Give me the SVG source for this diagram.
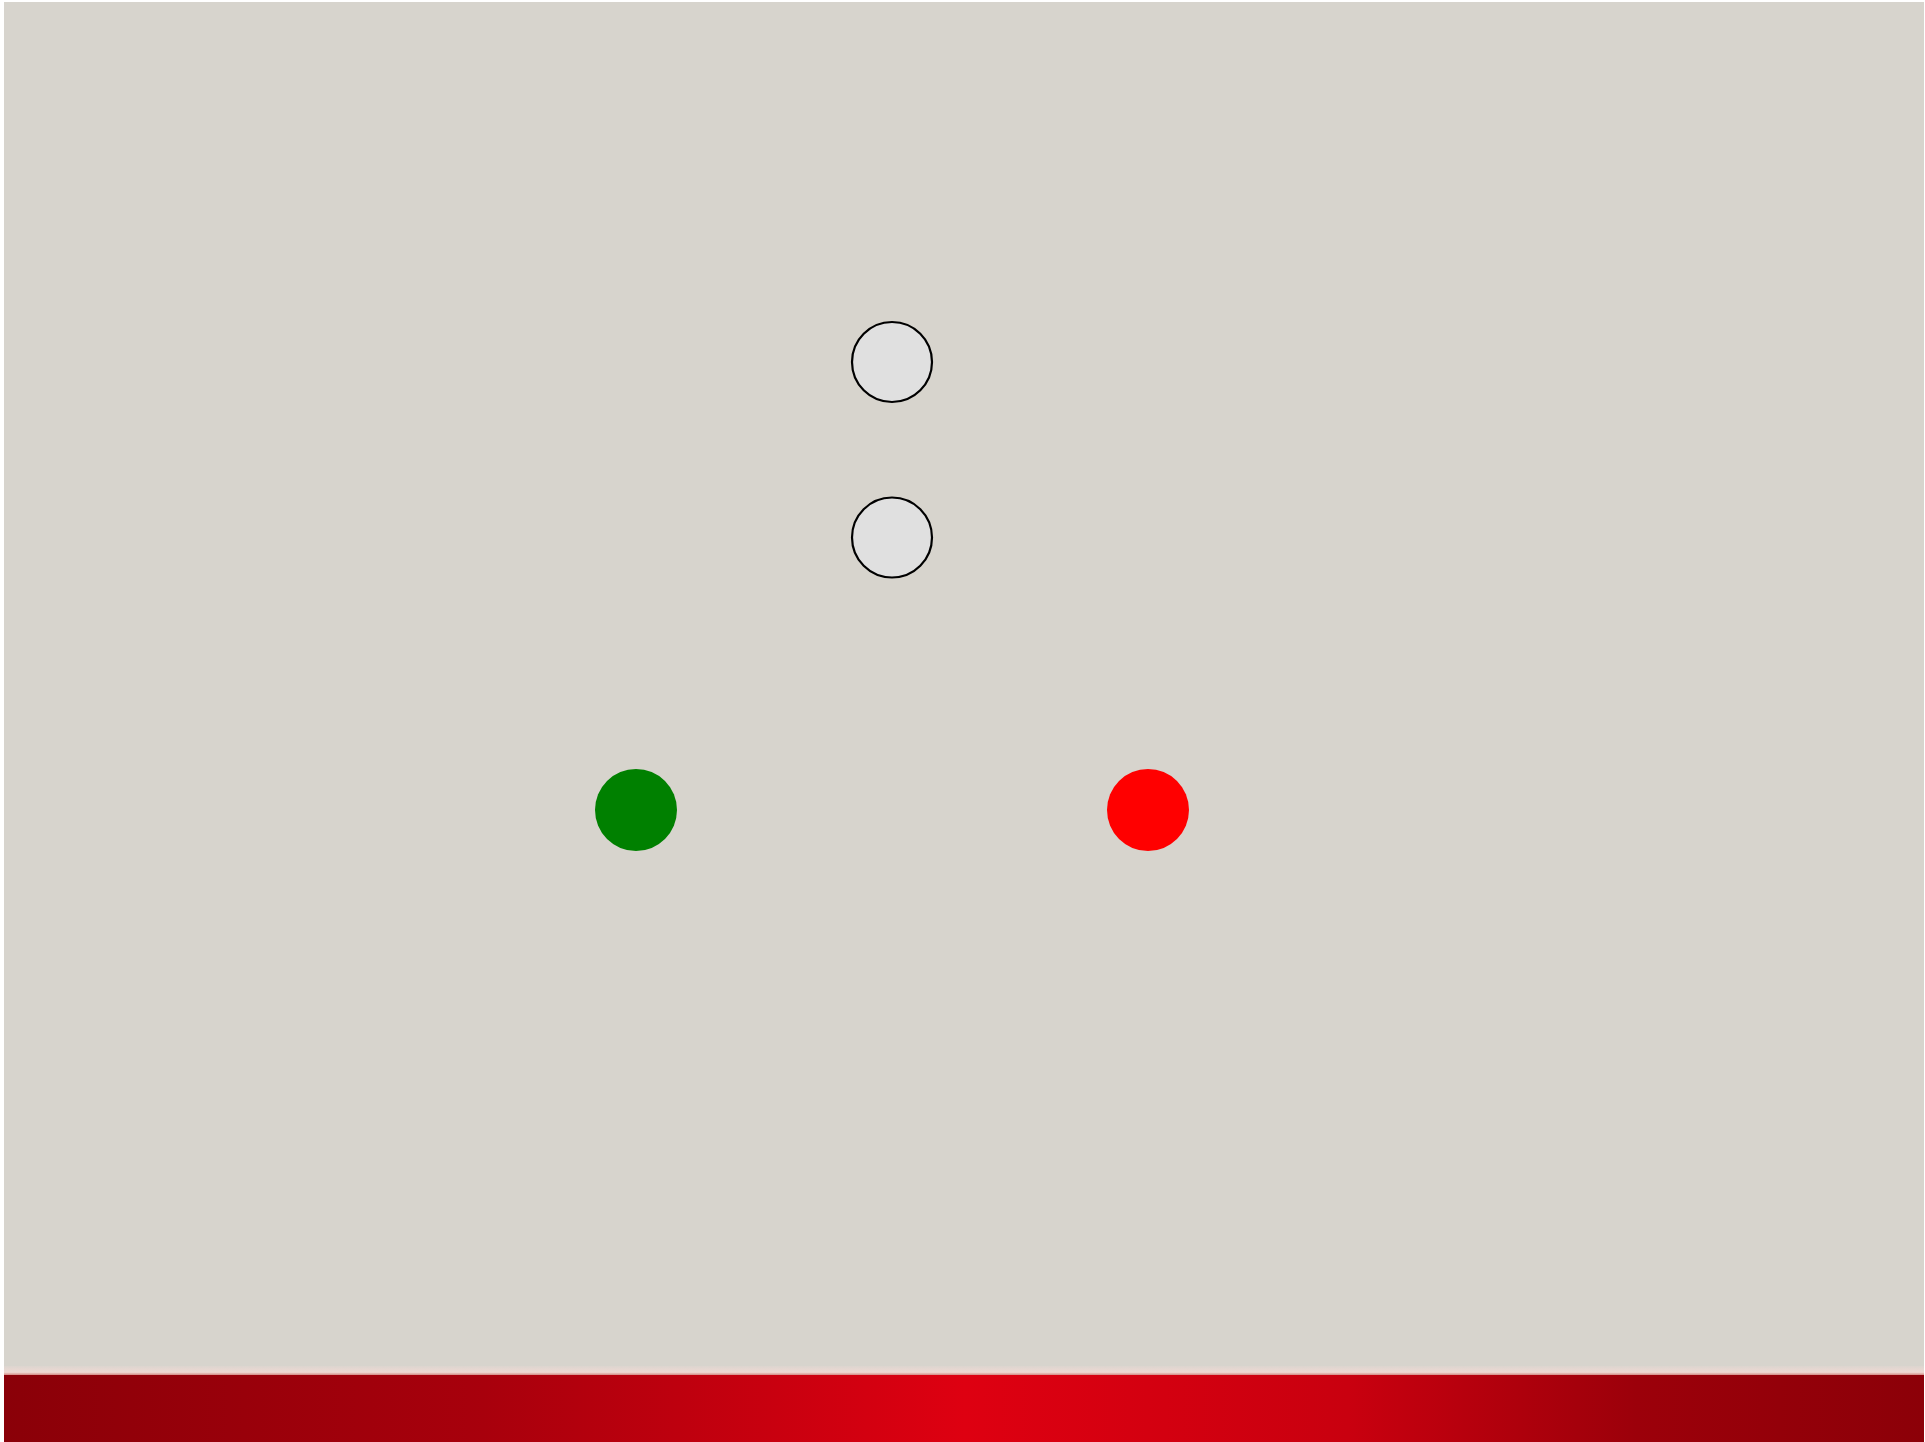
<svg xmlns="http://www.w3.org/2000/svg" width="1925" height="1442" viewBox="0 0 1925 1442">
<defs>
<style>
.node-light{fill:#e0e0e0;stroke:#000;stroke-width:2.2}
</style>
<linearGradient id="band" x1="0" y1="0" x2="1" y2="0">
<stop offset="0" stop-color="#8a0008"/>
<stop offset="0.25" stop-color="#a8000c"/>
<stop offset="0.5" stop-color="#de0011"/>
<stop offset="0.7" stop-color="#c9000f"/>
<stop offset="0.85" stop-color="#9c000a"/>
<stop offset="1" stop-color="#8c0008"/>
</linearGradient>
<linearGradient id="stripe" x1="0" y1="0" x2="0" y2="1">
<stop offset="0" stop-color="#dcd5cf"/>
<stop offset="0.7" stop-color="#eed8d2"/>
<stop offset="1" stop-color="#d48a84"/>
</linearGradient>
</defs>
<rect x="0" y="0" width="1925" height="1442" fill="#ffffff"/>
<rect x="4" y="2" width="1920" height="1366" fill="#d7d4cd"/>
<rect x="4" y="1366" width="1920" height="9" fill="url(#stripe)"/>
<rect x="4" y="1375" width="1920" height="67" fill="url(#band)"/>
<g id="connectors"></g>
<g id="node-top"><circle class="node-light" cx="892" cy="362" r="40"/></g>
<g id="node-middle"><circle class="node-light" cx="892" cy="537.5" r="40"/></g>
<g id="node-green"><circle cx="636" cy="810" r="41" fill="#008000"/></g>
<g id="node-red"><circle cx="1148" cy="810" r="41" fill="#ff0000"/></g>
</svg>
